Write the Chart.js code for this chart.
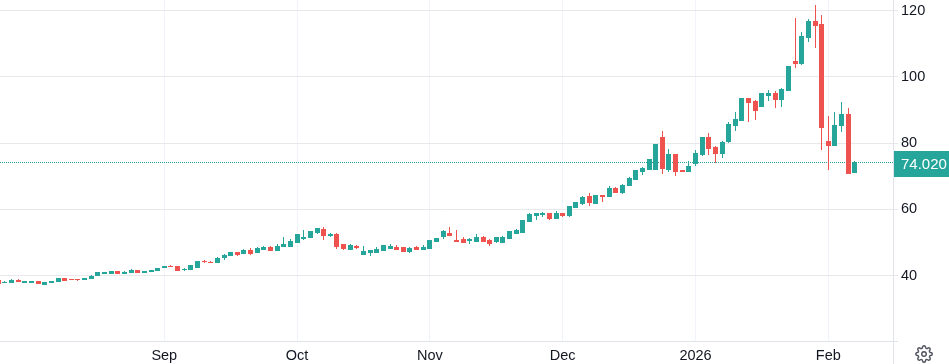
<!DOCTYPE html>
<html>
<head>
<meta charset="utf-8">
<style>
  html, body { margin: 0; padding: 0; background: #fff; overflow: hidden; }
  #wrap { position: relative; width: 949px; height: 364px; }
  #gear { position: absolute; left: 915px; top: 345px; }
</style>
<script src="https://cdn.jsdelivr.net/npm/chart.js@4/dist/chart.umd.min.js"></script>
</head>
<body>
<div id="wrap">
  <canvas id="chart" width="949" height="364"></canvas>
  <svg id="gear" width="18" height="18" viewBox="0 0 24 24" fill="none" stroke="#50535e" stroke-width="1.9">
    <circle cx="12" cy="12" r="3"></circle>
    <path d="M19.4 15a1.65 1.65 0 0 0 .33 1.82l.06.06a2 2 0 0 1 0 2.83 2 2 0 0 1-2.83 0l-.06-.06a1.65 1.65 0 0 0-1.82-.33 1.65 1.65 0 0 0-1 1.51V21a2 2 0 0 1-2 2 2 2 0 0 1-2-2v-.09A1.65 1.65 0 0 0 9 19.4a1.65 1.65 0 0 0-1.82.33l-.06.06a2 2 0 0 1-2.83 0 2 2 0 0 1 0-2.83l.06-.06a1.65 1.65 0 0 0 .33-1.82 1.65 1.65 0 0 0-1.51-1H3a2 2 0 0 1-2-2 2 2 0 0 1 2-2h.09A1.65 1.65 0 0 0 4.6 9a1.65 1.65 0 0 0-.33-1.82l-.06-.06a2 2 0 0 1 0-2.83 2 2 0 0 1 2.83 0l.06.06a1.65 1.65 0 0 0 1.82.33H9a1.65 1.65 0 0 0 1-1.51V3a2 2 0 0 1 2-2 2 2 0 0 1 2 2v.09a1.65 1.65 0 0 0 1 1.51 1.65 1.65 0 0 0 1.82-.33l.06-.06a2 2 0 0 1 2.83 0 2 2 0 0 1 0 2.83l-.06.06a1.65 1.65 0 0 0-.33 1.82V9a1.65 1.65 0 0 0 1.51 1H21a2 2 0 0 1 2 2 2 2 0 0 1-2 2h-.09a1.65 1.65 0 0 0-1.51 1z"></path>
  </svg>
</div>
<script>
// DATA
const opens = [
  38.4,37.8,37.8,38.5,37.8,37.8,38.1,37.2,37.8,38.1,
  39.1,38.9,38.9,38.7,39.0,39.9,40.5,40.7,41.2,40.5,
  40.8,41.5,40.8,41.2,41.4,42.3,42.8,42.7,41.7,41.7,
  42.3,44.3,44.0,43.8,45.3,45.9,46.9,46.5,47.6,46.8,
  48.0,48.4,47.6,48.9,48.9,50.1,51.3,51.4,53.1,54.0,
  52.0,52.5,49.5,48.0,48.9,46.3,46.9,46.8,47.4,48.3,
  48.6,48.6,47.1,48.6,48.0,48.3,50.4,51.9,52.8,50.7,
  51.0,50.5,50.4,51.6,50.7,50.4,50.1,51.3,52.8,53.1,
  56.2,58.1,58.3,58.6,57.1,58.6,58.0,60.4,61.6,63.7,
  61.6,64.3,63.7,66.4,65.2,67.3,68.9,71.3,72.0,72.0,
  81.6,72.0,76.5,71.6,71.3,73.8,76.5,81.6,78.6,76.8,
  80.4,85.2,86.7,93.5,92.4,90.9,94.2,94.8,93.0,96.0,
  104.5,103.9,112.0,116.8,115.9,80.4,79.2,85.2,88.5,71.1
];
const highs = [
  38.5,38.2,38.9,38.8,38.3,38.3,38.3,37.9,38.3,39.1,
  39.1,38.9,38.9,39.1,40.1,41.0,41.0,41.5,41.2,41.5,
  41.9,41.5,41.2,41.8,42.4,42.7,43.1,42.8,42.2,43.0,
  44.3,44.6,44.3,45.5,46.6,47.2,47.2,47.9,48.2,48.5,
  48.9,48.8,49.6,51.5,51.1,52.3,53.6,53.4,54.3,54.6,
  52.8,52.8,49.5,49.5,49.2,48.9,47.4,48.6,49.2,49.5,
  49.2,48.6,48.6,48.9,49.2,50.7,51.3,53.7,54.6,53.7,
  51.6,51.3,52.5,51.9,51.0,51.7,51.9,53.4,54.0,56.8,
  58.9,58.9,59.2,58.9,59.5,58.9,61.0,62.2,63.9,64.9,
  64.3,64.3,67.0,66.7,67.6,69.8,71.9,72.9,75.0,79.5,
  83.7,78.3,76.8,71.6,74.7,78.0,81.7,83.1,79.2,80.7,
  86.4,89.4,93.6,93.5,93.0,94.8,96.0,95.7,96.6,103.3,
  117.7,113.5,117.4,121.6,118.6,88.2,89.4,92.4,90.6,74.7
];
const lows = [
  37.5,37.6,37.7,38.0,37.8,37.8,37.4,37.2,37.8,38.1,
  38.4,38.7,38.3,38.7,38.9,39.9,40.5,40.6,40.5,40.4,
  40.7,40.8,40.8,41.0,41.3,42.3,42.5,41.3,41.4,41.7,
  42.3,43.8,43.7,43.7,44.6,45.8,45.9,46.4,46.1,46.7,
  47.9,47.3,47.5,48.6,48.8,50.1,50.7,51.4,52.5,50.7,
  51.6,48.0,47.7,47.9,48.0,46.2,45.9,46.7,47.4,48.2,
  47.9,47.1,46.8,47.9,47.9,48.3,50.4,51.0,52.1,50.1,
  49.8,49.5,50.3,50.3,48.9,49.8,50.0,51.3,52.7,53.0,
  56.1,56.8,57.7,56.8,57.0,57.7,57.7,60.3,61.4,61.0,
  61.6,62.2,63.6,64.9,64.6,67.2,68.8,70.4,72.0,72.0,
  70.7,71.3,70.1,71.3,71.2,73.2,76.2,76.5,74.1,75.6,
  80.1,83.7,86.6,86.4,87.0,90.9,92.7,90.6,90.9,95.9,
  102.7,103.6,110.5,108.7,78.0,71.7,79.1,83.4,70.7,71.0
];
const closes = [
  37.6,38.0,38.6,38.1,38.3,38.3,37.5,37.9,38.3,39.1,
  38.4,38.7,38.7,39.1,39.8,41.0,41.0,41.2,40.5,41.0,
  41.6,40.8,41.2,41.6,42.2,42.7,42.6,41.6,41.9,43.0,
  44.3,44.1,43.8,45.1,46.1,46.9,46.4,47.4,46.7,48.2,
  48.6,47.6,48.8,49.3,50.2,52.3,51.5,53.4,54.3,52.0,
  52.5,48.7,48.3,49.2,48.6,47.1,47.4,47.7,49.2,48.9,
  48.0,47.1,48.3,48.0,48.6,50.7,51.3,53.4,52.2,50.4,
  50.1,51.0,51.6,50.4,49.8,51.6,51.6,53.4,53.7,56.5,
  58.3,58.6,58.6,57.1,58.6,58.0,60.7,61.9,63.6,61.9,
  64.3,63.7,66.4,65.2,67.3,69.2,71.6,72.3,75.0,79.5,
  72.3,76.5,71.3,71.3,72.9,76.8,81.6,78.3,76.8,80.1,
  85.5,87.0,93.3,92.2,89.7,94.8,94.8,93.0,96.3,103.0,
  104.0,112.3,116.8,115.6,84.6,79.2,85.2,88.5,70.8,74.02
];
const monthLabels = ["Sep", "Oct", "Nov", "Dec", "2026", "Feb"];
const monthStarts = [25, 45, 65, 85, 105, 125]; // candle number of first session
const priceTicks = [40, 60, 80, 100, 120];
const lastPrice = 74.02;

const UP = "#26a69a";
const DOWN = "#ef5350";
const colors = closes.map((c, i) => (c >= opens[i] ? UP : DOWN));

const xMin = 0.26;
const xMax = 134.74;

function noPadding(axis) {
  axis.paddingTop = 0;
  axis.paddingBottom = 0;
  axis.paddingLeft = 0;
  axis.paddingRight = 0;
}

// snap marks to whole pixels, like the original renderer does
const snapMarks = {
  id: "snapMarks",
  beforeDatasetsDraw(chart) {
    chart.data.datasets.forEach((ds, d) => {
      chart.getDatasetMeta(d).data.forEach((el) => {
        if (ds.type === "line") {
          el.y = Math.floor(el.y) + 0.5;
          return;
        }
        el.x = Math.floor(el.x) + 0.5;
        const hi = Math.min(el.y, el.base);
        const lo = Math.max(el.y, el.base);
        const isBody = ds.barThickness > 1;
        const top = isBody ? Math.floor(hi) : Math.round(hi);
        let bottom = isBody ? Math.ceil(lo) : Math.round(lo);
        if (bottom === top) bottom = top + 1;
        el.y = top;
        el.base = bottom;
      });
    });
  },
};

// frame lines and the last price tag
const frame = {
  id: "frame",
  afterDraw(chart) {
    const ctx = chart.ctx;
    const { right, bottom } = chart.chartArea;
    ctx.save();
    ctx.strokeStyle = "#e0e3eb";
    ctx.lineWidth = 1;
    ctx.beginPath();
    ctx.moveTo(0, Math.floor(bottom) + 0.5);
    ctx.lineTo(right + 5, Math.floor(bottom) + 0.5);
    ctx.moveTo(Math.round(right) + 0.5, 0);
    ctx.lineTo(Math.round(right) + 0.5, chart.height);
    ctx.stroke();

    const y = chart.scales.y.getPixelForValue(lastPrice);
    ctx.fillStyle = UP;
    ctx.fillRect(Math.round(right) + 1, Math.floor(y) - 11, chart.width - right, 26);
    ctx.fillStyle = "#fff";
    ctx.font = '15px "Liberation Sans"';
    ctx.textAlign = "left";
    ctx.textBaseline = "middle";
    ctx.fillText(lastPrice.toFixed(3), 901, Math.floor(y) + 2.5);
    ctx.restore();
  },
};

const chart = new Chart(document.getElementById("chart").getContext("2d"), {
  type: "bar",
  data: {
    datasets: [
      {
        type: "line",
        data: [{ x: xMin, y: lastPrice }, { x: xMax, y: lastPrice }],
        borderColor: UP,
        borderWidth: 1,
        borderDash: [1, 1],
        pointRadius: 0,
        order: 3,
      },
      {
        data: lows.map((l, i) => ({ x: i, y: [l, highs[i]] })),
        backgroundColor: colors,
        barThickness: 1,
        grouped: false,
        inflateAmount: 0,
        order: 2,
      },
      {
        data: opens.map((o, i) => ({ x: i, y: [o, closes[i]] })),
        backgroundColor: colors,
        barThickness: 5,
        grouped: false,
        inflateAmount: 0,
        order: 1,
      },
    ],
  },
  plugins: [snapMarks, frame],
  options: {
    responsive: false,
    animation: false,
    layout: { padding: 0 },
    plugins: { legend: { display: false }, tooltip: { enabled: false } },
    scales: {
      x: {
        type: "linear",
        offset: false,
        min: xMin,
        max: xMax,
        afterBuildTicks: (axis) => {
          axis.ticks = monthStarts.map((v) => ({ value: v }));
        },
        afterFit: (axis) => {
          axis.height = 22.25;
          noPadding(axis);
        },
        grid: { color: "#f0f3fa", drawTicks: false, offset: false },
        border: { display: false },
        ticks: {
          autoSkip: false,
          maxRotation: 0,
          padding: 6,
          color: "#131722",
          font: { family: "Liberation Sans", size: 14.5 },
          callback: (v) => monthLabels[monthStarts.indexOf(v)],
        },
      },
      y: {
        position: "right",
        min: 20,
        max: 123.17,
        afterBuildTicks: (axis) => {
          axis.ticks = priceTicks.map((v) => ({ value: v }));
        },
        afterFit: (axis) => {
          axis.width = 56;
          noPadding(axis);
        },
        grid: { color: "#e8e8ea", tickLength: 5 },
        border: { display: false },
        ticks: {
          padding: 3,
          color: "#131722",
          font: { family: "Liberation Sans", size: 14.5 },
          callback: (v) => String(v),
        },
      },
    },
  },
});
</script>
</body>
</html>
